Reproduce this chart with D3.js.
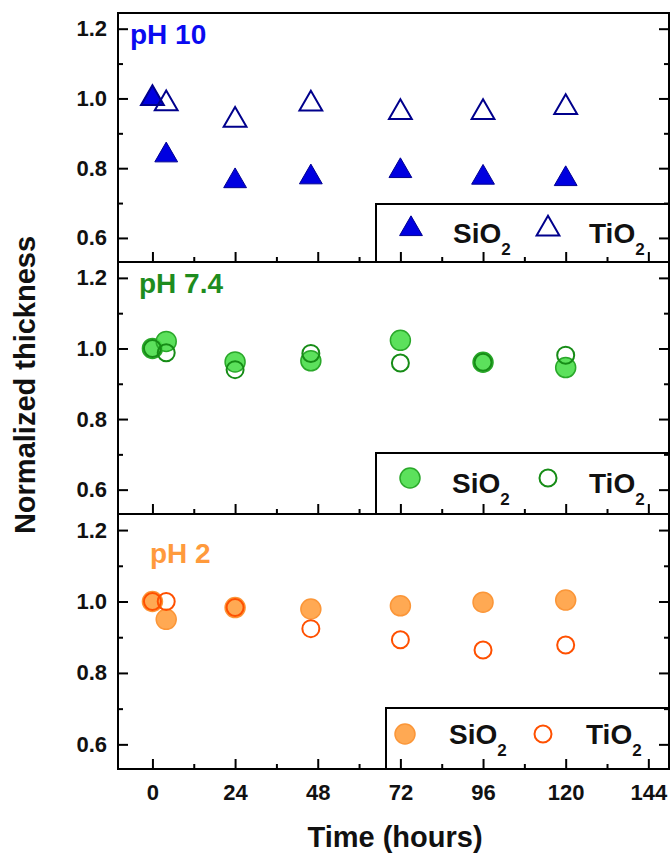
<!DOCTYPE html>
<html>
<head>
<meta charset="utf-8">
<script src="https://cdn.jsdelivr.net/npm/d3@7"></script>
<style>
  body { margin: 0; background: #fff; }
  text { font-family: "Liberation Sans", Arial, Helvetica, sans-serif; font-weight: bold; }
</style>
</head>
<body>
<svg id="chart"></svg>
<script>
// data
const hours = [0, 4, 24, 46, 72, 96, 120];
const phLabels = ["pH 10", "pH 7.4", "pH 2"];
const sio2_pH10 = [1.0, 0.837, 0.763, 0.774, 0.792, 0.773, 0.769];
const tio2_pH10 = [1.0, 0.985, 0.938, 0.984, 0.96, 0.96, 0.974];
const sio2_pH74 = [1.0, 1.02, 0.962, 0.965, 1.023, 0.961, 0.946];
const tio2_pH74 = [1.0, 0.988, 0.94, 0.986, 0.959, 0.961, 0.981];
const sio2_pH2 = [1.0, 0.95, 0.983, 0.979, 0.988, 0.998, 1.004];
const tio2_pH2 = [1.0, 1.0, 0.983, 0.924, 0.893, 0.864, 0.878];
const seriesNames = ["SiO", "TiO"];
const xTicks = [0, 24, 48, 72, 96, 120, 144];
const xMinor = [12, 36, 60, 84, 108, 132];
const yTicks = [0.6, 0.8, 1.0, 1.2];
const yMinor = [0.7, 0.9, 1.1];

const width = 672, height = 858;
const left = 118, right = 669;

const svg = d3.select("#chart").attr("width", width).attr("height", height);

const x = d3.scaleLinear().domain([-10, 150]).range([left, right]);

const panels = [
  {
    label: phLabels[0], sio2: sio2_pH10, tio2: tio2_pH10,
    top: 13, bottom: 262, labelX: 130, labelDy: 31, labelColor: "#0a0af0",
    shape: "triangle", fill: "#0000e0", fillStroke: "#000090", openStroke: "#00008c",
    legendLeft: 376, legendTop: 204, m1: 35, t1: 77, m2: 172, t2: 213, mDy: 25, tDy: 39
  },
  {
    label: phLabels[1], sio2: sio2_pH74, tio2: tio2_pH74,
    top: 262, bottom: 514, labelX: 139, labelDy: 31, labelColor: "#1e8c1e",
    shape: "circle", fill: "#4ade4a", fillStroke: "#2aa82a", openStroke: "#168c16",
    legendLeft: 376, legendTop: 453, m1: 34, t1: 76, m2: 172, t2: 213, mDy: 25, tDy: 40
  },
  {
    label: phLabels[2], sio2: sio2_pH2, tio2: tio2_pH2,
    top: 514, bottom: 769, labelX: 150, labelDy: 49, labelColor: "#ff9a3c",
    shape: "circle", fill: "#ffa040", fillStroke: "#fb9638", openStroke: "#ff5000",
    legendLeft: 386, legendTop: 708, m1: 19, t1: 63, m2: 157, t2: 200, mDy: 26, tDy: 36
  }
];

const triangle = d3.symbol().type(d3.symbolTriangle).size(225);

panels.forEach((p, pi) => {
  const y = d3.scaleLinear().domain([0.531, 1.245]).range([p.bottom, p.top]);
  const g = svg.append("g");

  // axes, ticks pointing inward
  g.append("g").attr("transform", `translate(${left},0)`)
    .call(d3.axisLeft(y).tickValues(yTicks).tickSize(-10).tickPadding(11).tickFormat(d3.format(".1f")));
  g.append("g").attr("transform", `translate(${left},0)`)
    .call(d3.axisLeft(y).tickValues(yMinor).tickSize(-5).tickFormat(""));
  g.append("g").attr("transform", `translate(${right},0)`)
    .call(d3.axisRight(y).tickValues(yTicks).tickSize(-10).tickFormat(""));
  g.append("g").attr("transform", `translate(${right},0)`)
    .call(d3.axisRight(y).tickValues(yMinor).tickSize(-5).tickFormat(""));
  g.append("g").attr("transform", `translate(0,${p.bottom})`)
    .call(d3.axisBottom(x).tickValues(xTicks).tickSize(-10).tickPadding(15)
      .tickFormat(pi === panels.length - 1 ? d3.format("d") : ""));
  g.append("g").attr("transform", `translate(0,${p.bottom})`)
    .call(d3.axisBottom(x).tickValues(xMinor).tickSize(-5).tickFormat(""));

  g.selectAll(".domain").remove();
  g.selectAll(".tick line").attr("stroke", "#000").attr("stroke-width", 2);
  g.selectAll(".tick text").attr("font-size", 22).attr("fill", "#111");

  // frame
  g.append("rect")
    .attr("x", left).attr("y", p.top)
    .attr("width", right - left).attr("height", p.bottom - p.top)
    .attr("fill", "none").attr("stroke", "#000").attr("stroke-width", 2);

  // panel label
  g.append("text")
    .attr("x", p.labelX).attr("y", p.top + p.labelDy)
    .attr("font-size", 28).attr("fill", p.labelColor)
    .text(p.label);

  // markers: filled SiO2 first, open TiO2 on top
  if (p.shape === "triangle") {
    g.selectAll(".sio2").data(hours).join("path")
      .attr("d", triangle)
      .attr("transform", (d, i) => `translate(${x(d)},${y(p.sio2[i])})`)
      .attr("fill", p.fill).attr("stroke", p.fillStroke).attr("stroke-width", 1);
    g.selectAll(".tio2").data(hours).join("path")
      .attr("d", triangle)
      .attr("transform", (d, i) => `translate(${x(d)},${y(p.tio2[i])})`)
      .attr("fill", "none").attr("stroke", p.openStroke).attr("stroke-width", 2);
  } else {
    g.selectAll(".sio2").data(hours).join("circle")
      .attr("cx", d => x(d)).attr("cy", (d, i) => y(p.sio2[i])).attr("r", 10)
      .attr("fill", p.fill).attr("fill-opacity", 0.9)
      .attr("stroke", p.fillStroke).attr("stroke-width", 1.5);
    g.selectAll(".tio2").data(hours).join("circle")
      .attr("cx", d => x(d)).attr("cy", (d, i) => y(p.tio2[i])).attr("r", 8.5)
      .attr("fill", "none").attr("stroke", p.openStroke).attr("stroke-width", 2);
  }

  // legend box
  const lg = g.append("g").attr("transform", `translate(${p.legendLeft},${p.legendTop})`);
  lg.append("rect")
    .attr("width", right - p.legendLeft).attr("height", p.bottom - p.legendTop)
    .attr("fill", "none").attr("stroke", "#000").attr("stroke-width", 2);

  if (p.shape === "triangle") {
    lg.append("path").attr("d", triangle).attr("transform", `translate(${p.m1},${p.mDy})`)
      .attr("fill", p.fill).attr("stroke", p.fillStroke).attr("stroke-width", 1);
    lg.append("path").attr("d", triangle).attr("transform", `translate(${p.m2},${p.mDy})`)
      .attr("fill", "none").attr("stroke", p.openStroke).attr("stroke-width", 2);
  } else {
    lg.append("circle").attr("cx", p.m1).attr("cy", p.mDy).attr("r", 10)
      .attr("fill", p.fill).attr("fill-opacity", 0.9)
      .attr("stroke", p.fillStroke).attr("stroke-width", 1.5);
    lg.append("circle").attr("cx", p.m2).attr("cy", p.mDy).attr("r", 8.5)
      .attr("fill", "none").attr("stroke", p.openStroke).attr("stroke-width", 2);
  }

  [[p.t1, seriesNames[0]], [p.t2, seriesNames[1]]].forEach(([tx, name]) => {
    const t = lg.append("text").attr("x", tx).attr("y", p.tDy)
      .attr("font-size", 28).attr("fill", "#111");
    t.append("tspan").text(name);
    t.append("tspan").attr("font-size", 17).attr("dy", 12).text("2");
  });
});

// axis titles
svg.append("text")
  .attr("transform", "translate(35,385) rotate(-90)")
  .attr("text-anchor", "middle").attr("font-size", 29).attr("fill", "#111")
  .text("Normalized thickness");

svg.append("text")
  .attr("x", 395).attr("y", 847)
  .attr("text-anchor", "middle").attr("font-size", 29).attr("fill", "#111")
  .text("Time (hours)");
</script>
</body>
</html>
